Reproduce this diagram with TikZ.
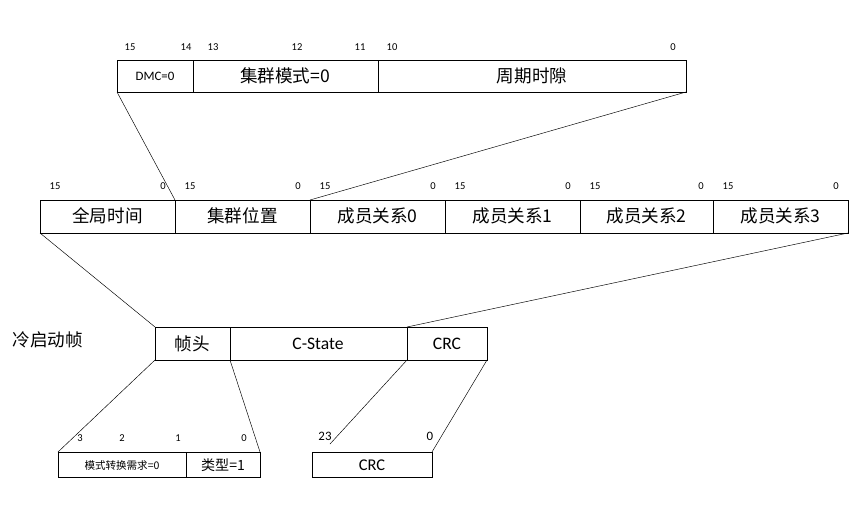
\documentclass[tikz,border=0pt]{standalone}
\usepackage{fontspec}
\setmainfont{Carlito}
\newfontfamily\cjk{Noto Sans CJK SC}
\begin{document}
\begin{tikzpicture}[x=0.03cm,y=-0.03cm,
  fld/.style={inner sep=0pt, font=\cjk\fontsize{15}{15}\selectfont},
  lat/.style={inner sep=0pt, font=\fontsize{15}{15}\selectfont},
  bit/.style={inner sep=0pt, font=\fontsize{9}{9}\selectfont},
  ln/.style={thin}]
\useasboundingbox (0,0) rectangle (865,506);
% top row
\draw[thick] (117,60) rectangle (193,92) (193,60) rectangle (378,92) (378,60) rectangle (686,92);
\node[inner sep=0pt, font=\fontsize{11}{11}\selectfont] (dmc) at (155,76) {DMC=0};
\node[fld] (jqms) at (285,76) {集群模式=0};
\node[fld] (zqsx) at (532,76) {周期时隙};
\foreach \x/\t in {130/15,186/14,213/13,297/12,360/11,392/10,673/0}
  \node[bit] at (\x,47) {\t};
% second row
\foreach \a/\b/\t [count=\i] in {40/175/全局时间,175/310/集群位置,310/445/成员关系0,445/580/成员关系1,580/713/成员关系2,713/848/成员关系3}{
  \draw[thick] (\a,200) rectangle (\b,233);
  \node[fld] (r\i) at ({(\a+\b)/2},216) {\t};
  \node[bit] at (\a+15,186) {15};
  \node[bit] at (\b-12,186) {0};
}
\coordinate (t1) at (117,92); \coordinate (t2) at (686,92);
\coordinate (s1) at (175,200); \coordinate (s2) at (310,200);
\draw[ln] (t1) -- (s1) (t2) -- (s2);
% third row
\node[fld] (lq) at (48,340) {冷启动帧};
\draw[thick] (155,327) rectangle (230,360) (230,327) rectangle (407,360) (407,327) rectangle (487,360);
\node[fld] (zt) at (192,344) {帧头};
\node[lat] (cs) at (318,344) {C-State};
\node[lat] (crc) at (447,344) {CRC};
\coordinate (u1) at (40,233); \coordinate (u2) at (848,233);
\coordinate (v1) at (155,327); \coordinate (v2) at (407,327);
\draw[ln] (u1) -- (v1) (u2) -- (v2);
% bottom left
\draw[thick] (58,452) rectangle (186,477) (186,452) rectangle (260,477);
\node[inner sep=0pt, font=\cjk\fontsize{9}{9}\selectfont] (ms) at (122,465) {模式转换需求=0};
\node[inner sep=0pt, font=\cjk\fontsize{12}{12}\selectfont] (lx) at (223,465) {类型=1};
\foreach \x/\t in {80/3,122/2,178/1,244/0}
  \node[bit] at (\x,438) {\t};
\coordinate (w1) at (155,360); \coordinate (w2) at (230,360);
\coordinate (b1) at (58,452); \coordinate (b2) at (260,452);
\draw[ln] (w1) -- (b1) (w2) -- (b2);
% bottom crc
\draw[thick] (312,452) rectangle (432,477);
\node[inner sep=0pt, font=\fontsize{14}{14}\selectfont] (crc2) at (372,465) {CRC};
\node[inner sep=0pt, font=\fontsize{11}{11}\selectfont] at (325,436) {23};
\node[inner sep=0pt, font=\fontsize{11}{11}\selectfont] at (430,436) {0};
\coordinate (x1) at (407,360); \coordinate (x2) at (487,360);
\coordinate (c1) at (330,444); \coordinate (c2) at (432,452);
\draw[ln] (x1) -- (c1) (x2) -- (c2);
\end{tikzpicture}
\end{document}
